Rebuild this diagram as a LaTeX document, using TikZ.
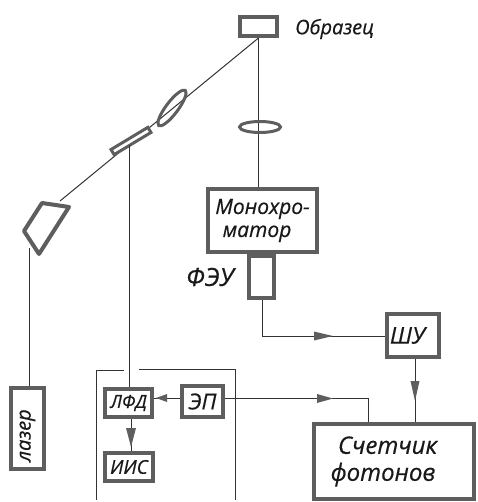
\documentclass[tikz,border=0pt]{standalone}
\usepackage{fontspec}
\setmainfont{Open Sans}[ItalicFeatures={FakeBold=0.5}]
\usetikzlibrary{arrows.meta,shapes.geometric}
\definecolor{ink}{HTML}{333333}
\definecolor{edge}{HTML}{5E5E5E}
\tikzset{
  x=1pt,y=-1pt,
  unit/.style={draw=edge,line width=4pt,fill=white,inner sep=0pt,font=\itshape,align=center,text=black!90},
  wire/.style={draw=ink,line width=1pt},
  thin frame/.style={draw=ink,line width=.9pt},
  caption/.style={inner sep=0pt,text=black!90},
  lens/.style={draw=edge,line width=3pt,shape=ellipse,inner sep=0pt},
  fs/.style={font=\itshape\fontsize{#1}{#1}\selectfont},
}
\newcommand{\ubox}[7]{% name x1 y1 x2 y2 fontsize text
  \node[unit,fs=#6,minimum width=#4pt-#2pt-4pt,minimum height=#5pt-#3pt-4pt] (#1) at ({(#2+#4)/2},{(#3+#5)/2}) {#7};}
\begin{document}
\begin{tikzpicture}
\useasboundingbox (0,0) rectangle (477,502);
% frame
\coordinate (fa) at (124,370); \coordinate (fb) at (96,370); \coordinate (fc) at (96,500);
\coordinate (fd) at (139,369); \coordinate (fe) at (235,369); \coordinate (ff) at (235,500);
\draw[thin frame] (fa) -- (fb) -- (fc);
\draw[thin frame] (fd) -- (fe) -- (ff);
% boxes
\ubox{sample}{238}{15}{279}{38}{10}{}
\ubox{mono}{206}{187}{319}{254}{21}{Монохро-\\[2pt]матор\hspace*{11pt}}
\ubox{pmt}{247}{254}{276}{300}{10}{}
\ubox{shu}{385}{312}{441}{359}{23}{ШУ\hspace*{11pt}}
\ubox{count}{312}{422}{476}{501}{24}{Счетчик\hspace*{13pt}\\[3pt]фотонов\hspace*{22pt}}
\ubox{laser}{9}{386}{46}{471}{20}{\rotatebox{90}{лазер\hspace*{14pt}}}
\ubox{lfd}{103}{387}{154}{419}{18}{ЛФД}
\ubox{ep}{180}{384}{225}{419}{22}{ЭП}
\ubox{iis}{103}{451}{155}{483}{19}{ИИС}
% optics
\draw[edge,line width=4pt,line join=round,fill=white] (42,203) -- (69,207) -- (39,254) -- (24,231) -- cycle;
\coordinate (prismtop) at (60,201);
\coordinate (prismbot) at (29,248);
\draw[wire] (sample.south) -- (prismtop);
\draw[wire] (sample.south) -- (mono.north -| sample.south);
\node[draw=edge,line width=3pt,fill=white,rotate=31,minimum width=43pt,minimum height=6pt,inner sep=0pt] (splitter) at (131,141) {};
\node[lens,rotate=53,minimum width=44pt,minimum height=12pt] (lensa) at (172,108) {};
\node[lens,minimum width=41pt,minimum height=11pt] (lensb) at (260,127) {};
\coordinate (splitfoot) at (129,145);
% connectors
\draw[wire] (prismbot) -- (laser.north -| prismbot);
\draw[wire] (splitfoot) -- (lfd.north -| splitfoot);
\coordinate (pmtfoot) at (262,300);
\coordinate (elbowa) at (262,336);
\draw[wire] (pmtfoot) -- (elbowa) -- (shu.west |- elbowa);
\coordinate (epout) at (225,398);
\coordinate (elbowb) at (368,398);
\draw[wire] (epout) -- (elbowb) -- (count.north -| elbowb);
\draw[wire] (shu.south -| 415,0) -- (count.north -| 415,0);
\draw[wire] (ep.west |- epout) -- (lfd.east |- epout);
\draw[wire] (lfd.south -| 131,0) -- (iis.north -| 131,0);
% arrowheads
\fill[edge] (314,331.5) -- (333,336) -- (314,340.5) -- cycle;
\fill[edge] (317,394) -- (333,398.5) -- (317,403) -- cycle;
\fill[edge] (410.5,381) -- (419.5,381) -- (415,401) -- cycle;
\fill[edge] (126,428) -- (136,428) -- (131,447) -- cycle;
\fill[edge] (156,398) -- (167,394) -- (167,402) -- cycle;
% labels
\node[caption,anchor=west,fs=20] (obr) at (295,29) {Образец};
\node[caption,fs=25] (feu) at (210,277) {ФЭУ};
\end{tikzpicture}
\end{document}
